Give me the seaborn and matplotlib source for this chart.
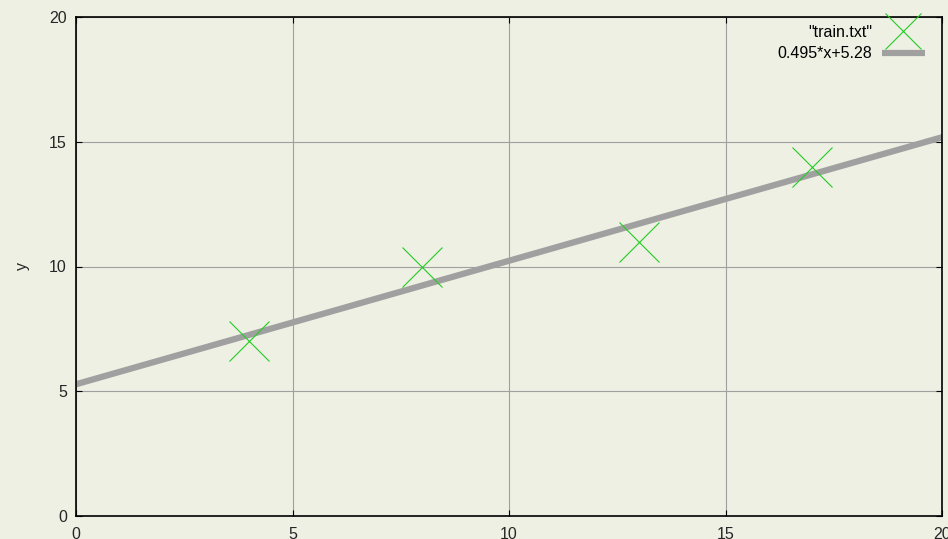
import matplotlib
matplotlib.use("Agg")
import matplotlib.pyplot as plt
import seaborn as sns
import pandas as pd
import numpy as np
from matplotlib.lines import Line2D

# data
x_train = [4, 8, 13, 17]
y_train = [7, 10, 11, 14]
slope = 0.495
intercept = 5.28
fit_x = [0, 20]
fit_label = "0.495*x+5.28"
data_label = '"train.txt"'
x_ticks = [0, 5, 10, 15, 20]
y_ticks = [0, 5, 10, 15, 20]

bg = "#eef0e4"
sns.set_theme(style="white")
plt.rcParams["font.family"] = ["Liberation Sans", "DejaVu Sans"]
FS = 11.5

fig = plt.figure(figsize=(9.48, 5.39), dpi=100, facecolor=bg)
ax = fig.add_axes([76/948, 1-516/539, (942-76)/948, (516-17)/539])
ax.set_facecolor(bg)

df_pts = pd.DataFrame({"x": x_train, "y": y_train})
df_fit = pd.DataFrame({"x": fit_x, "y": [slope*v + intercept for v in fit_x]})

ax.grid(True, color="#a0a0a0", linewidth=0.8)
ax.set_axisbelow(True)

sns.lineplot(data=df_fit, x="x", y="y", ax=ax, color="#a0a0a0", linewidth=4.5, zorder=2)
sns.scatterplot(data=df_pts, x="x", y="y", ax=ax, marker="x", s=830, color="#22cc22",
                linewidth=0.8, zorder=3)

ax.set_xlim(0, 20)
ax.set_ylim(0, 20)
ax.set_xticks(x_ticks)
ax.set_yticks(y_ticks)
ax.set_xlabel("")
ax.set_ylabel("y", fontsize=FS, labelpad=14)
ax.tick_params(direction="in", length=4, width=0.8, color="black", labelsize=FS,
               top=True, right=True, bottom=True, left=True)
ax.tick_params(axis="y", pad=6.5)
ax.tick_params(axis="x", pad=8)
for s in ax.spines.values():
    s.set_visible(True)
    s.set_color("black")
    s.set_linewidth(1.2)

handles = [
    Line2D([], [], marker="x", linestyle="none", color="#22cc22", markersize=26, markeredgewidth=0.8),
    Line2D([], [], color="#a0a0a0", linewidth=4.5, solid_capstyle="butt"),
]
leg = ax.legend(handles, [data_label, fit_label], loc="upper right",
                bbox_to_anchor=(925/948, 1-25/539), bbox_transform=fig.transFigure,
                frameon=False, markerfirst=False, fontsize=FS, borderpad=0, borderaxespad=0,
                handlelength=2.7, handletextpad=0.63, labelspacing=0.4)
for t in leg.get_texts():
    t.set_color("black")

fig.savefig("out.png", dpi=100, facecolor=bg)
